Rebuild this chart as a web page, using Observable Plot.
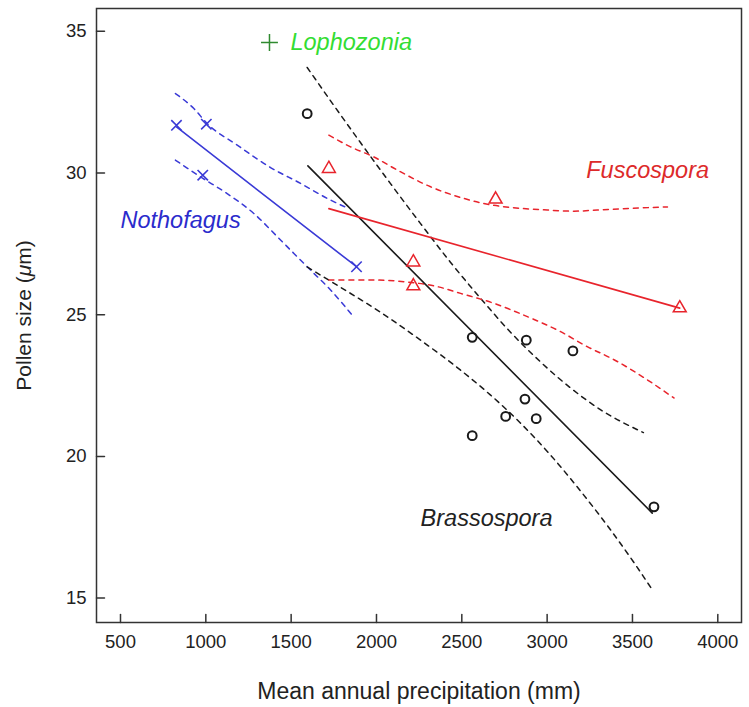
<!DOCTYPE html>
<html>
<head>
<meta charset="utf-8">
<script src="https://cdn.jsdelivr.net/npm/d3@7"></script>
<script src="https://cdn.jsdelivr.net/npm/@observablehq/plot@0.6"></script>
<style>
  html, body { margin: 0; padding: 0; background: #fff; }
  #chart { width: 749px; height: 707px; }
</style>
</head>
<body>
<div id="chart"></div>
<script>
// ---- tick values ----
const xTicks = [500, 1000, 1500, 2000, 2500, 3000, 3500, 4000];
const yTicks = [15, 20, 25, 30, 35];

// ---- Nothofagus (blue) ----
const nothoX = [828, 1003, 982, 1883];
const nothoY = [31.68, 31.72, 29.92, 26.69];
const nothoFitX = [828, 1883];
const nothoFitY = [31.62, 26.69];
const nothoUpX = [822, 930, 1008, 1184, 1379, 1555, 1712, 1819];
const nothoUpY = [32.80, 32.27, 31.74, 30.98, 30.19, 29.63, 29.10, 28.79];
const nothoLoX = [822, 969, 1125, 1281, 1419, 1516, 1614, 1731, 1866];
const nothoLoY = [30.45, 29.86, 29.27, 28.57, 27.75, 27.16, 26.57, 25.87, 24.92];

// ---- Brassospora (black) ----
const brassoX = [1594, 2561, 2878, 3151, 2870, 2757, 2936, 2561, 3626];
const brassoY = [32.09, 24.20, 24.10, 23.72, 22.02, 21.41, 21.33, 20.73, 18.22];
const brassoFitX = [1598, 3616];
const brassoFitY = [30.25, 18.0];
const brassoUpX = [1594, 1729, 1905, 2080, 2256, 2432, 2608, 2784, 2960, 3136, 3312, 3564];
const brassoUpY = [33.72, 32.56, 31.08, 29.64, 28.23, 26.86, 25.59, 24.39, 23.34, 22.42, 21.65, 20.84];
const brassoLoX = [1594, 1788, 2022, 2256, 2491, 2667, 2843, 3018, 3194, 3370, 3516, 3622];
const brassoLoY = [26.68, 25.97, 25.09, 24.11, 23.05, 22.17, 21.18, 20.06, 18.79, 17.42, 16.19, 15.24];

// ---- Fuscospora (red) ----
const fuscoX = [1721, 2698, 2216, 2216, 3777];
const fuscoY = [30.15, 29.07, 26.85, 26.01, 25.23];
const fuscoFitX = [1721, 3777];
const fuscoFitY = [28.74, 25.23];
const fuscoUpX = [1721, 1848, 1985, 2122, 2317, 2512, 2629, 2845, 3001, 3157, 3294, 3490, 3705];
const fuscoUpY = [31.33, 30.92, 30.56, 30.10, 29.51, 29.10, 28.92, 28.75, 28.69, 28.65, 28.69, 28.75, 28.80];
const fuscoLoX = [1721, 1985, 2181, 2356, 2493, 2688, 2884, 3079, 3235, 3392, 3587, 3743];
const fuscoLoY = [26.22, 26.22, 26.15, 25.99, 25.75, 25.40, 24.93, 24.40, 23.87, 23.41, 22.70, 22.06];

// ---- Lophozonia (green) ----
const lophoX = [1373];
const lophoY = [34.6];

// ---- labels ----
const labelText = ["Nothofagus", "Fuscospora", "Brassospora"];
const labelX = [852, 3589, 2645];
const labelY = [28.33, 30.09, 17.80];
const labelColor = ["#2b2bcc", "#dd2a2a", "#222222"];
const lophoLabel = ["Lophozonia"];
const lophoLabelX = [1496];
const lophoLabelY = [34.6];

const BLUE = "#3a3ad6", RED = "#e8242c", BLACK = "#1a1a1a", GREEN = "#2f8a2f", LGREEN = "#33dd33";

const pts = (xs, ys) => xs.map((x, i) => ({x, y: ys[i]}));
const labels = labelText.map((t, i) => ({t, x: labelX[i], y: labelY[i], c: labelColor[i]}));
const lophoLabels = lophoLabel.map((t, i) => ({t, x: lophoLabelX[i], y: lophoLabelY[i]}));

const tickShape = {draw(ctx, l) { ctx.moveTo(0, 0); ctx.lineTo(0, -l); }};
const dash = "5,5";
const band = {x: "x", y: "y", strokeWidth: 1.5, strokeDasharray: dash, curve: "monotone-x"};

const plot = Plot.plot({
  width: 749,
  height: 707,
  marginLeft: 96,
  marginRight: 8,
  marginTop: 8,
  marginBottom: 85,
  style: {fontFamily: "'Liberation Sans', Arial, sans-serif", fontSize: "17px", background: "#fff", color: "#222"},
  x: {domain: [359.4, 4138.9]},
  y: {domain: [14.14, 35.80]},
  marks: [
    // confidence bands
    Plot.line(pts(nothoUpX, nothoUpY), {...band, stroke: BLUE}),
    Plot.line(pts(nothoLoX, nothoLoY), {...band, stroke: BLUE}),
    Plot.line(pts(brassoUpX, brassoUpY), {...band, stroke: BLACK}),
    Plot.line(pts(brassoLoX, brassoLoY), {...band, stroke: BLACK}),
    Plot.line(pts(fuscoUpX, fuscoUpY), {...band, stroke: RED}),
    Plot.line(pts(fuscoLoX, fuscoLoY), {...band, stroke: RED}),
    // fit lines
    Plot.line(pts(nothoFitX, nothoFitY), {x: "x", y: "y", stroke: BLUE, strokeWidth: 1.6}),
    Plot.line(pts(brassoFitX, brassoFitY), {x: "x", y: "y", stroke: BLACK, strokeWidth: 1.6}),
    Plot.line(pts(fuscoFitX, fuscoFitY), {x: "x", y: "y", stroke: RED, strokeWidth: 1.6}),
    // points
    Plot.dot(pts(nothoX, nothoY), {x: "x", y: "y", symbol: "times", r: 4.8, stroke: BLUE, strokeWidth: 1.6}),
    Plot.dot(pts(brassoX, brassoY), {x: "x", y: "y", symbol: "circle", r: 4.4, stroke: BLACK, strokeWidth: 2, fill: "none"}),
    Plot.dot(pts(fuscoX, fuscoY), {x: "x", y: "y", symbol: "triangle", r: 4.8, stroke: RED, strokeWidth: 1.5, fill: "none"}),
    Plot.dot(pts(lophoX, lophoY), {x: "x", y: "y", symbol: "plus", r: 5.5, stroke: GREEN, strokeWidth: 1.5}),
    // labels
    Plot.text(labels, {x: "x", y: "y", text: "t", fill: "c", textAnchor: "middle", fontSize: 23.5, fontStyle: "italic"}),
    Plot.text(lophoLabels, {x: "x", y: "y", text: "t", fill: LGREEN, textAnchor: "start", fontSize: 23.5, fontStyle: "italic"}),
    // frame and inward ticks
    Plot.frame({stroke: "#333", strokeWidth: 1.5}),
    Plot.vector(xTicks, {x: d => d, frameAnchor: "bottom", anchor: "start", length: 8, rotate: 0, shape: tickShape, stroke: "#333", strokeWidth: 1.5}),
    Plot.vector(yTicks, {y: d => d, frameAnchor: "left", anchor: "start", length: 8, rotate: 90, shape: tickShape, stroke: "#333", strokeWidth: 1.5}),
    Plot.axisX(xTicks, {tickSize: 0, tickPadding: 12, tickFormat: d => String(d), label: "Mean annual precipitation (mm)", labelArrow: "none", labelAnchor: "center", labelOffset: 76}),
    Plot.axisY(yTicks, {tickSize: 0, tickPadding: 10, tickFormat: d => String(d), label: "Pollen size (μm)", labelArrow: "none", labelAnchor: "center", labelOffset: 80})
  ]
});

// font sizes for axis texts
plot.querySelectorAll("g[aria-label='x-axis tick label'], g[aria-label='y-axis tick label']").forEach(g => g.setAttribute("font-size", "18.5"));
plot.querySelectorAll("g[aria-label='x-axis label']").forEach(g => g.setAttribute("font-size", "23"));
plot.querySelectorAll("g[aria-label='y-axis label']").forEach(g => g.setAttribute("font-size", "21"));

// italic mu in y label
plot.querySelectorAll("text").forEach(t => {
  if (t.textContent.indexOf("Pollen size") === 0) {
    t.textContent = "";
    const ns = "http://www.w3.org/2000/svg";
    [["Pollen size (", false], ["μ", true], ["m)", false]].forEach(([s, it]) => {
      const sp = document.createElementNS(ns, "tspan");
      sp.textContent = s;
      if (it) sp.setAttribute("font-style", "italic");
      t.appendChild(sp);
    });
  }
});

document.getElementById("chart").appendChild(plot);
</script>
</body>
</html>
